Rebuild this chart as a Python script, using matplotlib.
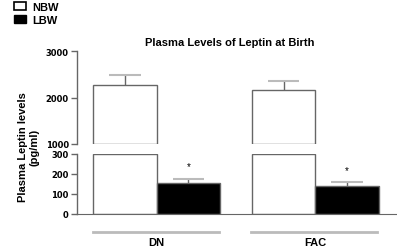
import matplotlib
matplotlib.use("Agg")
import matplotlib.pyplot as plt
from matplotlib.patches import Patch

groups = ["DN", "FAC"]
nbw = [2270, 2170]
nbw_err = [220, 185]
lbw = [155, 141]
lbw_err = [21, 17]
upper_ticks = [1000, 2000, 3000]
lower_ticks = [0, 100, 200, 300]

W, H = 397, 251
plt.rcParams['font.family'] = ['Liberation Sans', 'DejaVu Sans']
fig = plt.figure(figsize=(W / 100, H / 100), dpi=100)

def frac_box(x0, y0, x1, y1):
    return [x0 / W, 1 - y1 / H, (x1 - x0) / W, (y1 - y0) / H]

ax_up = fig.add_axes(frac_box(77, 52, 397, 145))
ax_lo = fig.add_axes(frac_box(77, 155, 397, 215))

dark = "#666666"
light = "#bbbbbb"
bw = 0.40
cap = 0.10
xs = list(range(len(groups)))
xlim = (-0.503, 1.516)
tickfont = dict(family="DejaVu Sans", weight="bold", size=6)

for ax in (ax_up, ax_lo):
    ax.set_xlim(*xlim)
    ax.set_facecolor("none")
    for s in ["top", "right"]:
        ax.spines[s].set_visible(False)
    ax.spines["left"].set_color(dark)
    ax.spines["left"].set_linewidth(1)
    ax.tick_params(axis="y", direction="out", length=4, width=1, color=dark, pad=2)
    ax.tick_params(axis="x", bottom=False, labelbottom=False)

ax_up.spines["bottom"].set_visible(False)
ax_lo.spines["bottom"].set_color(dark)

ax_up.set_ylim(1000, 3000)
ax_up.set_yticks(upper_ticks)
ax_up.set_yticklabels([str(t) for t in upper_ticks], fontdict=tickfont)
ax_lo.set_ylim(0, 300)
ax_lo.set_yticks(lower_ticks)
ax_lo.set_yticklabels([str(t) for t in lower_ticks], fontdict=tickfont)

nbw_x = [x - bw / 2 for x in xs]
lbw_x = [x + bw / 2 for x in xs]

def up_err(ax, xv, vals, errs):
    tops = [v + e for v, e in zip(vals, errs)]
    ax.vlines(xv, vals, tops, color=dark, lw=1, zorder=3)
    ax.hlines(tops, [x - cap for x in xv], [x + cap for x in xv], color=light,
              lw=1.5, zorder=3)

# upper axis: NBW bars from 1000
ax_up.bar(nbw_x, [v - 1000 for v in nbw], bottom=1000, width=bw, color="white",
          edgecolor=dark, linewidth=1, zorder=2)
up_err(ax_up, nbw_x, nbw, nbw_err)

# lower axis: NBW clipped at 300, LBW bars
ax_lo.bar(nbw_x, [300] * len(nbw), width=bw, color="white",
          edgecolor=dark, linewidth=1, zorder=2)
ax_lo.bar(lbw_x, lbw, width=bw, color="black", edgecolor=dark, linewidth=1, zorder=2)
up_err(ax_lo, lbw_x, lbw, lbw_err)

for x, v, e in zip(lbw_x, lbw, lbw_err):
    ax_lo.text(x, v + e + 62, "*", ha="center", va="center", fontsize=7, color="black")

# group lines and labels
for x, g in zip(xs, groups):
    ax_lo.plot([x - 0.405, x + 0.39], [-90, -90], color=light, lw=2, clip_on=False)
    ax_lo.text(x, -140, g, ha="center", va="center", fontsize=8, fontweight="bold")

fig.text(230 / W, 1 - 43 / H, "Plasma Levels of Leptin at Birth", ha="center",
         va="center", fontsize=8, fontweight="bold")
fig.text(29 / W, 1 - 147 / H, "Plasma Leptin levels\n(pg/ml)", ha="center",
         va="center", rotation=90, fontsize=8, fontweight="bold",
         multialignment="center", linespacing=1.15)

handles = [Patch(facecolor="white", edgecolor="black", linewidth=1.2),
           Patch(facecolor="black", edgecolor="black")]
leg = fig.legend(handles, ["NBW", "LBW"], loc="upper left", bbox_to_anchor=(0.012, 1.025),
                 frameon=False, prop=dict(size=8, weight="bold"), handlelength=1.1,
                 handleheight=0.7, handletextpad=0.6, labelspacing=0.3, borderpad=0.3)

fig.savefig("out.png", dpi=100)
